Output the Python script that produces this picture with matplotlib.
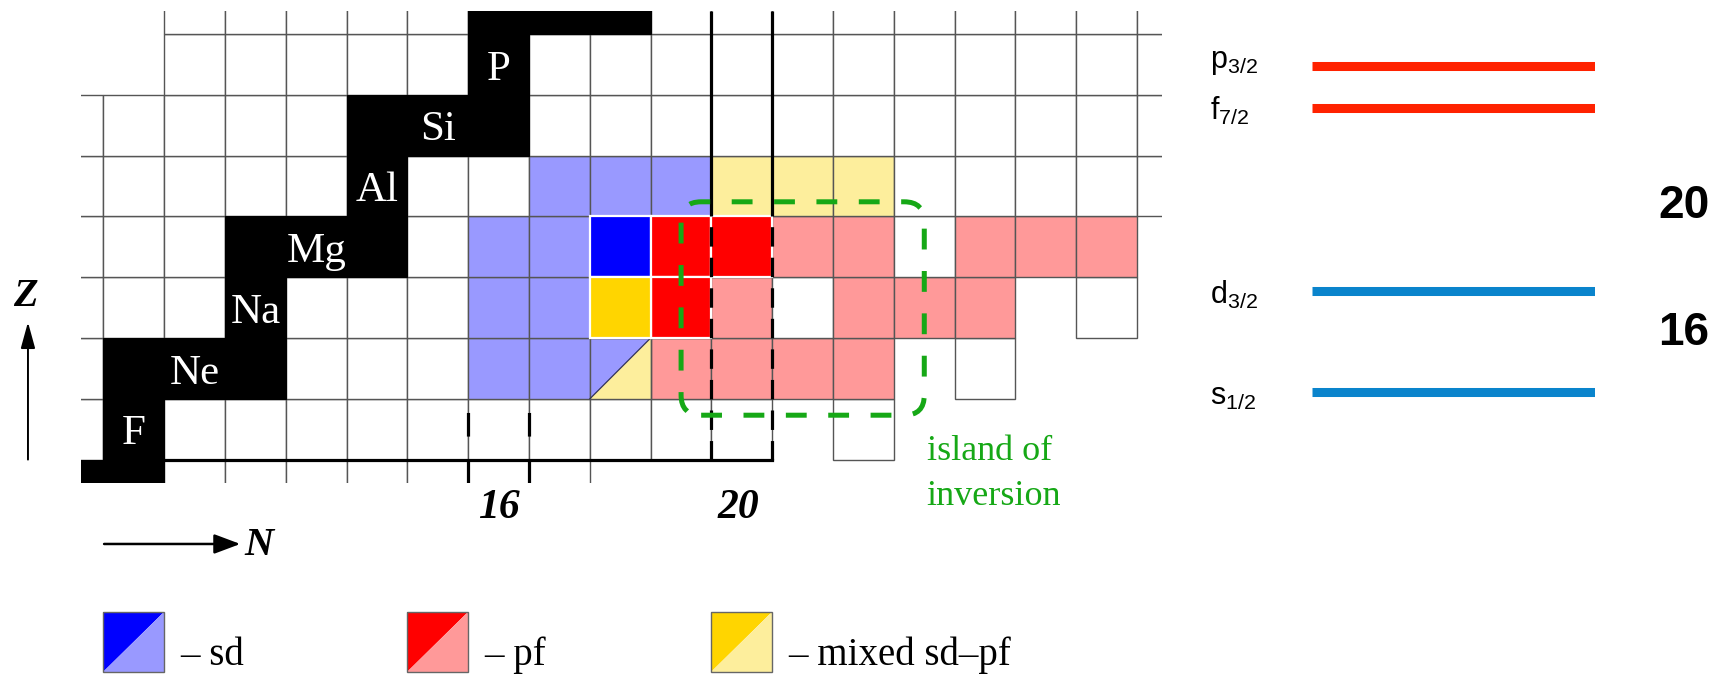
import matplotlib
matplotlib.use('Agg')
import matplotlib.pyplot as plt
from matplotlib.patches import Rectangle, Polygon, FancyBboxPatch

plt.rcParams['font.family'] = ['Liberation Serif', 'DejaVu Serif']
plt.rcParams['mathtext.fontset'] = 'custom'
plt.rcParams['mathtext.rm'] = 'Liberation Sans'
plt.rcParams['mathtext.it'] = 'Liberation Sans:italic'
plt.rcParams['lines.scale_dashes'] = False

# --- chart of nuclides: which cells exist in each Z row ---
row_Z = [8, 9, 10, 11, 12, 13, 14, 15, 16]
row_N_first = [9, 9, 9, 9, 9, 9, 9, 11, 11]
row_N_last = [17, 22, 24, 26, 26, 27, 27, 27, 27]
row_N_missing = [[], [21], [23], [25], [], [], [], [], []]

# stable isotopes (black)
stable_Z = [8, 8, 9, 10, 10, 10, 11, 12, 12, 12, 13, 14, 14, 14, 15, 16, 16, 16]
stable_N = [9, 10, 10, 10, 11, 12, 12, 12, 13, 14, 14, 14, 15, 16, 16, 16, 17, 18]

elements = ['F', 'Ne', 'Na', 'Mg', 'Al', 'Si', 'P']
element_Z = [9, 10, 11, 12, 13, 14, 15]
element_N = [10, 11, 12, 13, 14, 15, 16]

# ground-state character, (Z, N)
sd_cells = [(13, 17), (13, 18), (13, 19), (12, 16), (12, 17), (11, 16), (11, 17),
            (10, 16), (10, 17)]
sd_strong = [(12, 18)]
pf_cells = [(12, 21), (12, 22), (12, 24), (12, 25), (12, 26), (11, 20), (11, 22),
            (11, 23), (11, 24), (10, 19), (10, 20), (10, 21), (10, 22)]
pf_strong = [(12, 19), (12, 20), (11, 19)]
mixed_cells = [(13, 20), (13, 21), (13, 22)]
mixed_strong = [(11, 18)]
split_cells = [(10, 18)]  # half sd / half mixed

magic_N = [16, 20]

# --- single-particle levels (arbitrary energy units) ---
level_names = ['s', 'd', 'f', 'p']
level_j = ['1/2', '3/2', '7/2', '3/2']
level_E = [0.0, 1.0, 2.82, 3.23]
level_shell = ['sd', 'sd', 'pf', 'pf']
gap_labels = ['16', '20']
gap_E = [0.59, 1.85]

legend_labels = ['\u2013 sd', '\u2013 pf', '\u2013 mixed sd\u2013pf']

SD_D, SD_L = '#0000ff', '#9999ff'
PF_D, PF_L = '#ff0000', '#ff9999'
MX_D, MX_L = '#ffd500', '#fdee9c'
GRID = '#555555'
GREEN = '#16a816'
LEVEL_COL = {'sd': '#0a84cc', 'pf': '#ff2200'}

fig = plt.figure(figsize=(17.3, 6.75), dpi=100)
ax = fig.add_axes([0, 0, 1, 1])
ax.set_xlim(7.798, 36.252)
ax.set_ylim(4.957, 16.059)
ax.axis('off')

clip = Rectangle((9.13, 8.115), 26.91 - 9.13, 15.878 - 8.115, transform=ax.transData)

fill = {}
for cells, col in [(sd_cells, SD_L), (pf_cells, PF_L), (mixed_cells, MX_L)]:
    for c in cells:
        fill[c] = col


def add(p):
    ax.add_patch(p)
    p.set_clip_path(clip)


for z, n0, n1, miss in zip(row_Z, row_N_first, row_N_last, row_N_missing):
    for n in range(n0, n1 + 1):
        if n in miss:
            continue
        x0, y0 = n - 0.5, z - 0.5
        if (z, n) in split_cells:
            add(Polygon([(x0, y0), (x0, y0 + 1), (x0 + 1, y0 + 1)], closed=True,
                        fc=SD_L, ec='none', zorder=1))
            add(Polygon([(x0, y0), (x0 + 1, y0), (x0 + 1, y0 + 1)], closed=True,
                        fc=MX_L, ec='none', zorder=1))
            ax.plot([x0, x0 + 1], [y0, y0 + 1], color='#333355', lw=0.9, zorder=1.5)
            add(Rectangle((x0, y0), 1, 1, fc='none', ec=GRID, lw=1.0, zorder=1.2))
        else:
            add(Rectangle((x0, y0), 1, 1, fc=fill.get((z, n), 'white'), ec=GRID,
                          lw=1.0, zorder=1))

for z, n in zip(stable_Z, stable_N):
    add(Rectangle((n - 0.5, z - 0.5), 1, 1, fc='black', ec='black', lw=0.8, zorder=2))

for cells, col in [(sd_strong, SD_D), (pf_strong, PF_D), (mixed_strong, MX_D)]:
    for z, n in cells:
        add(Rectangle((n - 0.5, z - 0.5), 1, 1, fc=col, ec='white', lw=1.6, zorder=3))

for el, z, n in zip(elements, element_Z, element_N):
    ax.text(n, z - 0.08, el, color='white', fontsize=31, ha='center', va='center', zorder=6)

# magic-number boundaries
n16, n20 = magic_N
ax.plot([n16 + 0.5 - 6, n20 + 0.5], [8.5, 8.5], color='black', lw=2.3,
        solid_capstyle='projecting', zorder=4)
for u in [n20 - 0.5, n20 + 0.5]:
    l1, = ax.plot([u, u], [15.878, 12.5], color='black', lw=2.3, solid_capstyle='butt', zorder=4)
    l2, = ax.plot([u, u], [8.5, 12.5], color='black', lw=2.3, ls=(0, (14, 8)), zorder=4)
for u in [n16 - 0.5, n16 + 0.5]:
    l3, = ax.plot([u, u], [9.5, 8.0], color='black', lw=2.3, ls=(23.8, (17, 16.5)), zorder=4)
    l3.set_clip_path(clip)

# island of inversion
ax.add_patch(FancyBboxPatch((19.0, 9.23), 4.0, 3.51, boxstyle='round,pad=0,rounding_size=0.33',
                            fill=False, ec=GREEN, lw=3.6, ls=(0, (15, 15.5)), zorder=5))
ax.text(23.04, 8.49, 'island of', color=GREEN, fontsize=26, ha='left', va='baseline')
ax.text(23.04, 7.76, 'inversion', color=GREEN, fontsize=26, ha='left', va='baseline')

ax.text(n16, 7.70, '16', fontsize=30, fontweight='bold', style='italic', ha='center', va='center')
ax.text(n20 - 0.05, 7.70, '20', fontsize=30, fontweight='bold', style='italic', ha='center', va='center')

# axis arrows
ax.annotate('', xy=(8.258, 10.76), xytext=(8.258, 8.5),
            arrowprops=dict(arrowstyle='-|>,head_length=0.8,head_width=0.22', lw=1.4,
                            color='black', mutation_scale=20, shrinkA=0, shrinkB=0))
ax.text(8.21, 11.18, 'Z', fontsize=29, fontweight='bold', style='italic', ha='center', va='center')
ax.annotate('', xy=(11.75, 7.112), xytext=(9.51, 7.112),
            arrowprops=dict(arrowstyle='-|>,head_length=0.8,head_width=0.3', lw=1.8,
                            color='black', mutation_scale=20, shrinkA=0, shrinkB=0))
ax.text(11.82, 7.08, 'N', fontsize=29, fontweight='bold', style='italic', ha='left', va='center')

# legend
leg_pairs = [(SD_D, SD_L), (PF_D, PF_L), (MX_D, MX_L)]
for i, ((dark, light), lab) in enumerate(zip(leg_pairs, legend_labels)):
    x0, y0 = 9.5 + 5 * i, 5.0
    ax.add_patch(Polygon([(x0, y0), (x0, y0 + 1), (x0 + 1, y0 + 1)], closed=True, fc=dark, ec='none'))
    ax.add_patch(Polygon([(x0, y0), (x0 + 1, y0), (x0 + 1, y0 + 1)], closed=True, fc=light, ec='none'))
    ax.add_patch(Rectangle((x0, y0), 1, 1, fc='none', ec='#666666', lw=1.0))
    ax.text(x0 + 1.26, 5.12, lab, fontsize=28, ha='left', va='baseline')

# --- level scheme ---
ax2 = fig.add_axes([1311.7 / 1730, 0, (1595 - 1311.7) / 1730, 1])
ax2.set_xlim(0, 1)
ax2.set_ylim(-2.797, 3.886)
ax2.axis('off')
label_dy = [-0.124, -0.119, -0.119, -0.015]
for name, j, e, sh, dy in zip(level_names, level_j, level_E, level_shell, label_dy):
    ax2.plot([0, 1], [e, e], color=LEVEL_COL[sh], lw=6.5, solid_capstyle='butt')
    ax2.text(-0.359, e + dy, r'$\mathrm{%s}_{\mathrm{%s}}$' % (name, j), fontsize=22,
             ha='left', va='baseline', clip_on=False)
for lab, e in zip(gap_labels, gap_E):
    ax2.text(1.314, e, lab, fontsize=33, fontweight='bold', family='Liberation Sans',
             ha='center', va='center', clip_on=False)

fig.savefig('out.png', dpi=100)
